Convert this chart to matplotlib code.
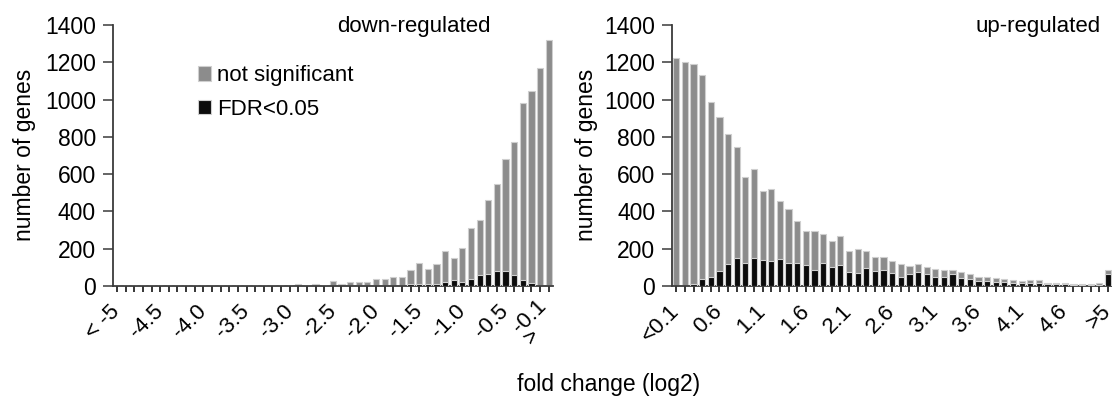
import matplotlib
matplotlib.use("Agg")
import matplotlib.pyplot as plt
from matplotlib.patches import Patch
import numpy as np

plt.rcParams['font.family'] = ['Liberation Sans', 'DejaVu Sans']

# ---- data ----
down_labels = ["< -5", "-4.5", "-4.0", "-3.5", "-3.0", "-2.5", "-2.0",
               "-1.5", "-1.0", "-0.5", "-0.1\n>"]
up_labels = ["<0.1", "0.6", "1.1", "1.6", "2.1", "2.6", "3.1", "3.6",
             "4.1", "4.6", ">5"]

down_all = [0] * 21 + [10, 0, 10, 0, 28, 10, 22, 22, 22, 37, 37, 50, 50, 84,
                       122, 89, 118, 189, 148, 202, 309, 354, 461, 547, 679,
                       774, 979, 1045, 1167, 1320]
down_fdr = [0] * 34 + [9, 10, 9, 9, 23, 32, 23, 38, 58, 64, 78, 78, 57, 31,
                       17, 0, 0]

up_all = [1225, 1204, 1193, 1132, 986, 905, 818, 744, 582, 629, 508, 521, 456,
          414, 346, 294, 294, 279, 240, 267, 187, 200, 190, 158, 158, 132,
          118, 109, 116, 104, 90, 84, 84, 77, 63, 50, 50, 43, 38, 30, 25, 30,
          30, 18, 18, 18, 11, 11, 11, 18, 84]
up_fdr = [0, 0, 11, 40, 49, 83, 117, 148, 122, 150, 142, 135, 144, 124, 122,
          115, 88, 122, 103, 115, 76, 68, 98, 79, 86, 72, 50, 63, 77, 64, 50,
          50, 64, 43, 38, 29, 29, 23, 23, 18, 14, 14, 14, 11, 11, 11, 7, 7, 7,
          7, 63]

titles = ["down-regulated", "up-regulated"]
legend_labels = ["not significant", "FDR<0.05"]

GREY = "#8c8c8c"
BLACK = "#0c0c0c"
EDGE = "#cfcfcf"
SPINE = "#3a3a3a"
FS = 16

W, H = 1112, 396
fig = plt.figure(figsize=(W / 100, H / 100), dpi=100)

def fx(px):
    return px / W

def fy(py):
    return 1 - py / H

ax_bottom = fy(286)
ax_h = fy(25) - fy(286)
axL = fig.add_axes([fx(112.7), ax_bottom, fx(440.3), ax_h])
axR = fig.add_axes([fx(672), ax_bottom, fx(440.3), ax_h])

panels = [(axL, down_all, down_fdr, down_labels, titles[0], 0.685),
          (axR, up_all, up_fdr, up_labels, titles[1], 0.832)]

for ax, tot, fdr, labels, title, tx in panels:
    x = np.arange(len(tot))
    ax.bar(x, tot, width=0.72, color=GREY, edgecolor=EDGE, linewidth=0.8,
           zorder=2)
    ax.bar(x, fdr, width=0.72, color=BLACK, edgecolor=EDGE, linewidth=0.8,
           zorder=3)
    ax.set_xlim(-0.5, len(tot) - 0.5)
    ax.set_ylim(0, 1400)
    ax.set_yticks(range(0, 1401, 200))
    ax.tick_params(axis='y', direction='out', length=7, width=1.1,
                   color=SPINE, labelsize=FS + 0.5, pad=5)
    major = np.arange(0, len(tot), 5)
    ax.set_xticks(major)
    ax.set_xticks(x, minor=True)
    ax.set_xticklabels(labels, rotation=45, ha='right', va='center',
                       rotation_mode='anchor', fontsize=FS)
    ax.tick_params(axis='x', which='both', direction='out', length=4,
                   width=1.1, color='black', pad=12)
    for s in ['top', 'right']:
        ax.spines[s].set_visible(False)
    ax.spines['left'].set_color(SPINE)
    ax.spines['left'].set_linewidth(1.3)
    ax.spines['bottom'].set_color(SPINE)
    ax.spines['bottom'].set_linewidth(1.3)
    ax.text(tx, 0.995, title, transform=ax.transAxes, ha='center',
            va='center', fontsize=FS)

last = axL.get_xticklabels()[-1]
last.set_multialignment('left')
last.set_linespacing(0.7)

handles = [Patch(facecolor=GREY, edgecolor=EDGE, linewidth=0.8),
           Patch(facecolor=BLACK, edgecolor=EDGE, linewidth=0.8)]
axL.legend(handles, legend_labels, loc='upper left',
           bbox_to_anchor=(0.193, 0.845), frameon=False, fontsize=FS,
           handlelength=0.62, handleheight=0.62, handletextpad=0.25,
           labelspacing=0.55, borderpad=0, borderaxespad=0)

fig.text(fx(25), fy(155), "number of genes", rotation=90, ha='center',
         va='center', fontsize=FS + 0.5)
fig.text(fx(586), fy(155), "number of genes", rotation=90, ha='center',
         va='center', fontsize=FS + 0.5)
fig.text(fx(609), fy(385), "fold change (log2)", ha='center', va='center',
         fontsize=FS + 0.5)

fig.savefig("out.png", dpi=100)
